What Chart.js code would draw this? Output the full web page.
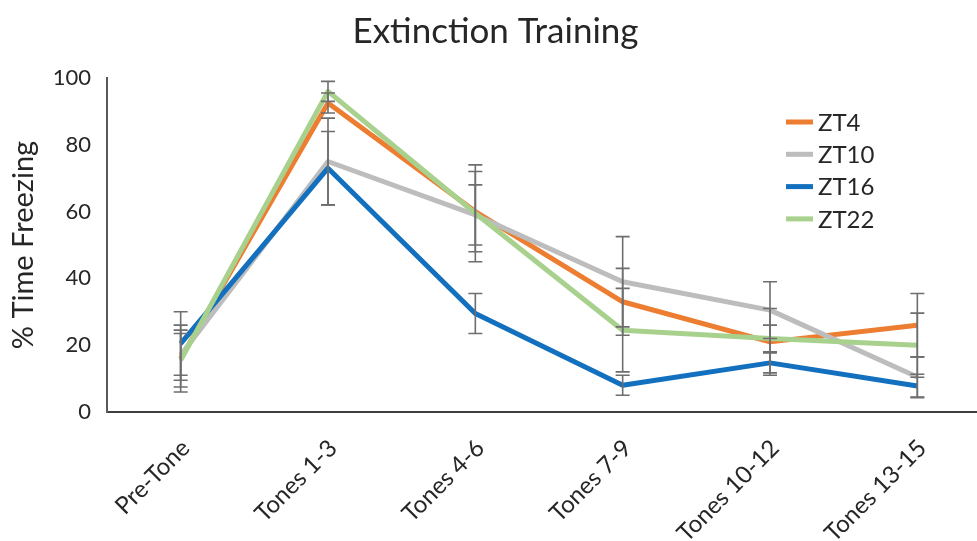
<!DOCTYPE html>
<html>
<head>
<meta charset="utf-8">
<script src="https://cdn.jsdelivr.net/npm/chart.js@4.4.1/dist/chart.umd.min.js"></script>
<style>
  html, body { margin: 0; padding: 0; background: #fff; }
  #frame { width: 977px; height: 541px; overflow: hidden; position: relative; }
  #wrap { width: 1000px; height: 541px; position: absolute; left: 0; top: 0; }
</style>
</head>
<body>
<div id="frame"><div id="wrap"><canvas id="c"></canvas></div></div>
<script>
// Session blocks
const categories = ['Pre-Tone', 'Tones 1-3', 'Tones 4-6', 'Tones 7-9', 'Tones 10-12', 'Tones 13-15'];

// Mean % time freezing per group
const zt4  = [16, 92.5, 60, 33, 21, 26];
const zt10 = [17, 75, 59, 39, 30.5, 10.5];
const zt16 = [20.5, 73, 29.5, 8, 14.7, 7.8];
const zt22 = [15.5, 96, 59.5, 24.5, 22, 20];

// Error (± SEM) per group
const zt4Err  = [10, 3, 12, 10, 10, 9.5];
const zt10Err = [7.5, 13, 9, 13.5, 8.5, 6];
const zt16Err = [9.5, 11, 6, 3, 3, 3.5];
const zt22Err = [8, 3, 14.5, 12.5, 4, 9.6];

const yTicks = [0, 20, 40, 60, 80, 100];

const FONT = 'Lato, "Open Sans", sans-serif';
const TEXT = '#262626';

const series = [
  { label: 'ZT4',  data: zt4,  err: zt4Err,  color: '#ED7D31', order: 4 },
  { label: 'ZT10', data: zt10, err: zt10Err, color: '#BDBDBD', order: 3 },
  { label: 'ZT16', data: zt16, err: zt16Err, color: '#1370BE', order: 2 },
  { label: 'ZT22', data: zt22, err: zt22Err, color: '#A9D18E', order: 1 }
];

// Vertical error bars with caps, drawn on top of the lines
const errorBars = {
  id: 'errorBars',
  afterDatasetsDraw(chart) {
    const ctx = chart.ctx;
    const y = chart.scales.y;
    ctx.save();
    ctx.strokeStyle = '#6E6E6E';
    ctx.lineWidth = 1.6;
    chart.data.datasets.forEach((ds, di) => {
      const meta = chart.getDatasetMeta(di);
      ds.errors.forEach((e, i) => {
        const pt = meta.data[i];
        const v = ds.data[i];
        const top = y.getPixelForValue(v + e);
        const bot = y.getPixelForValue(v - e);
        const cap = 7;
        ctx.beginPath();
        ctx.moveTo(pt.x, top); ctx.lineTo(pt.x, bot);
        ctx.moveTo(pt.x - cap, top); ctx.lineTo(pt.x + cap, top);
        ctx.moveTo(pt.x - cap, bot); ctx.lineTo(pt.x + cap, bot);
        ctx.stroke();
      });
    });
    ctx.restore();
  }
};

// Legend placed inside the plot, upper right
const innerLegend = {
  id: 'innerLegend',
  afterDraw(chart) {
    const ctx = chart.ctx;
    const x0 = 786, y0 = 122, gap = 32.3;
    ctx.save();
    ctx.font = '24px ' + FONT;
    ctx.textBaseline = 'middle';
    ctx.textAlign = 'left';
    chart.data.datasets.forEach((ds, i) => {
      const yy = y0 + i * gap;
      ctx.strokeStyle = ds.borderColor;
      ctx.lineWidth = 5;
      ctx.beginPath();
      ctx.moveTo(x0, yy); ctx.lineTo(x0 + 27, yy);
      ctx.stroke();
      ctx.fillStyle = TEXT;
      ctx.fillText(ds.label, x0 + 32, yy + 1);
    });
    ctx.restore();
  }
};

new Chart(document.getElementById('c'), {
  type: 'line',
  data: {
    labels: categories,
    datasets: series.map(s => ({
      label: s.label,
      data: s.data,
      errors: s.err,
      borderColor: s.color,
      backgroundColor: s.color,
      borderWidth: 5,
      pointRadius: 0,
      tension: 0,
      order: s.order,
      borderJoinStyle: 'round'
    }))
  },
  options: {
    responsive: true,
    maintainAspectRatio: false,
    animation: false,
    layout: { padding: { left: 0, right: 9, top: 0, bottom: 0 } },
    plugins: {
      legend: { display: false },
      tooltip: { enabled: false },
      title: {
        display: true,
        text: 'Extinction Training',
        color: TEXT,
        font: { family: FONT, size: 35, weight: 'normal' },
        padding: { top: 11, bottom: 25 }
      }
    },
    scales: {
      x: {
        type: 'category',
        offset: true,
        grid: { drawOnChartArea: false, drawTicks: false },
        border: { display: true, color: '#3F3F3F', width: 2 },
        ticks: {
          color: TEXT,
          font: { family: FONT, size: 24 },
          minRotation: 45,
          maxRotation: 45,
          padding: 22,
          labelOffset: 5
        },
        afterFit(scale) { scale.height = 129; }
      },
      y: {
        min: 0,
        max: 100,
        afterBuildTicks(scale) { scale.ticks = yTicks.map(v => ({ value: v })); },
        grid: { drawOnChartArea: false, drawTicks: false },
        border: { display: true, color: '#595959', width: 2 },
        ticks: {
          color: TEXT,
          font: { family: FONT, size: 22 },
          padding: 16
        },
        title: {
          display: true,
          text: '% Time Freezing',
          color: TEXT,
          font: { family: FONT, size: 29, weight: 'normal' },
          padding: { top: 6, bottom: 0 }
        },
        afterFit(scale) { scale.width = 107; }
      }
    }
  },
  plugins: [errorBars, innerLegend]
});
</script>
</body>
</html>
